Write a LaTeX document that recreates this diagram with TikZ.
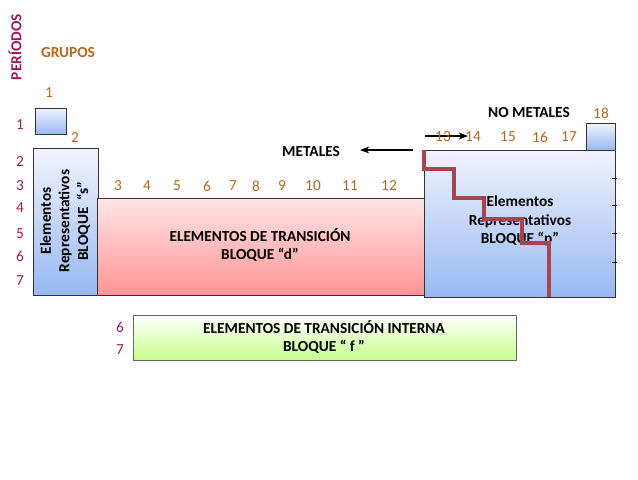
\documentclass[tikz,border=0pt]{standalone}
\usepackage{fontspec}
\setmainfont{Carlito}
\usetikzlibrary{arrows.meta}
\definecolor{grp}{HTML}{B5661E}
\definecolor{per}{HTML}{A0185A}
\definecolor{stair}{HTML}{A8444E}
\begin{document}
\begin{tikzpicture}[x=0.75pt,y=-0.75pt,
  gnum/.style={text=grp,font=\fontsize{11.5}{13}\selectfont},
  pnum/.style={text=per,font=\fontsize{11.5}{13}\selectfont},
  lbl/.style={font=\bfseries\fontsize{11.5}{14}\selectfont,align=center},
  bluebox/.style={draw=black!80,top color=blue!5,bottom color={rgb,255:red,150;green,185;blue,240}},
]
\useasboundingbox (0,0) rectangle (638,479);
% boxes
\path[bluebox] (35,108) rectangle (66,134);
\path[bluebox] (586,123) rectangle (615,150);
\path[bluebox] (33,148) rectangle (98,295);
\path[draw=black!80,top color=red!10,bottom color=red!42] (97,198) rectangle (424,295);
\path[bluebox] (424,150) rectangle (615,297);
\foreach \y in {178,205,233,262} \draw (612,\y) -- (617,\y);
\path[draw=black!60,top color=white,bottom color=green!50!yellow!45] (133,315) rectangle (516,360);
% labels
\node[lbl,rotate=90] (sb) at (65,221) {Elementos\\Representativos\\BLOQUE \ ``s''};
\node[lbl] (db) at (260,245) {ELEMENTOS DE TRANSICIÓN\\BLOQUE ``d''};
\node[lbl] (pb) at (520,221) {Elementos\\Representativos\\BLOQUE ``p''};
\node[lbl] (fb) at (324,337) {ELEMENTOS DE TRANSICIÓN INTERNA\\BLOQUE `` f ''};
% staircase
\draw[stair,line width=2.6pt] (424,150) -- (424,169) -- (454,169) -- (454,198) -- (484,198) -- (484,219) -- (522,219) -- (522,243) -- (549,243) -- (549,297);
% arrows & headers
\node[lbl] (met) at (311,152) {METALES};
\node[lbl] (nomet) at (529,113) {NO METALES};
\coordinate (ma) at (413,150); \coordinate (mb) at (360,150);
\draw[-{Stealth[length=7pt]},thick] (ma) -- (mb);
\coordinate (na) at (425,136); \coordinate (nb) at (468,136);
\draw[-{Stealth[length=7pt]},thick] (na) -- (nb);
\node[text=per,font=\bfseries\fontsize{11.5}{13}\selectfont,rotate=90] (per) at (15,47) {PERÍODOS};
\node[text=grp,font=\bfseries\fontsize{11.5}{13}\selectfont] (grpt) at (68,53) {GRUPOS};
% group numbers
\node[gnum] (g1) at (49,93) {1};
\node[gnum] (g2) at (75,138) {2};
\foreach \n/\x in {3/118,4/147,5/177,6/207,7/233,8/256,9/282,10/313,11/350,12/389}
  \node[gnum] (g\n) at (\x,186) {\n};
\foreach \n/\x in {13/443,14/473,15/508,16/540,17/569}
  \node[gnum] (g\n) at (\x,137) {\n};
\node[gnum] (g18) at (601,113) {18};
% period numbers
\foreach \n/\y in {1/125,2/162,3/186,4/208,5/234,6/256,7/281}
  \node[pnum] (p\n) at (20,\y) {\n};
\node[pnum] (pf6) at (120,327) {6};
\node[pnum] (pf7) at (120,350) {7};
\end{tikzpicture}
\end{document}
